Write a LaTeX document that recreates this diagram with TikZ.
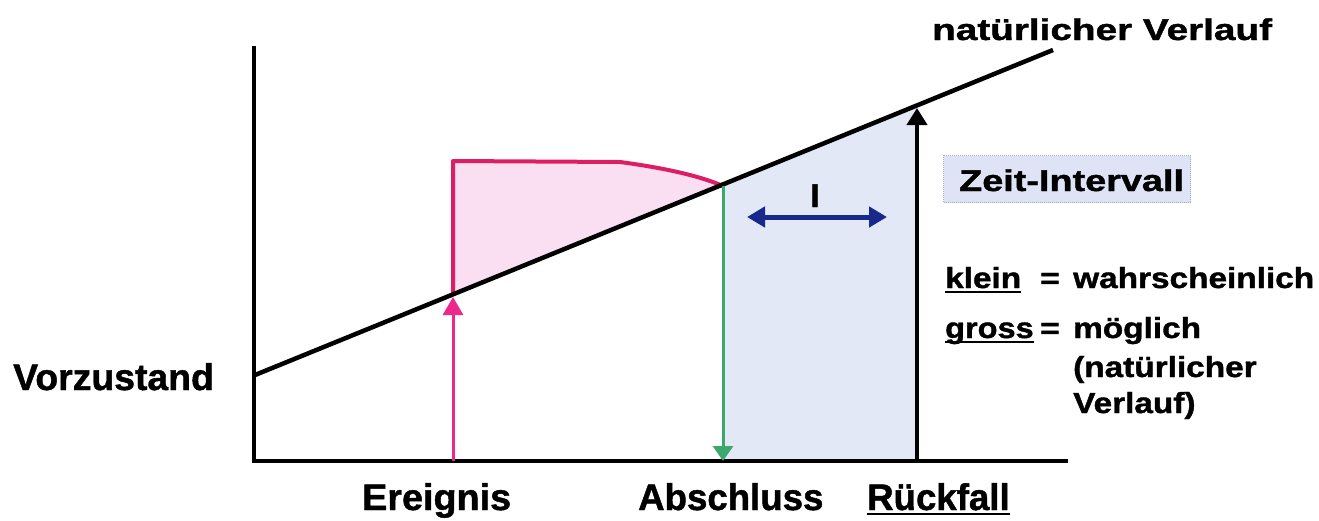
\documentclass[tikz,border=0pt]{standalone}
\usepackage{graphicx}
\usepackage{fontspec}
\setmainfont{Liberation Sans}[BoldFeatures={FakeBold=1.2}]
\usetikzlibrary{arrows.meta}
\definecolor{pinkline}{RGB}{222,30,100}
\definecolor{pinkarrow}{RGB}{236,40,140}
\definecolor{pinkfill}{RGB}{250,222,242}
\definecolor{bluefill}{RGB}{226,232,246}
\definecolor{greenl}{RGB}{60,168,110}
\definecolor{darkblue}{RGB}{25,40,140}
\definecolor{boxblue}{RGB}{222,228,245}
\definecolor{boxedge}{RGB}{160,170,205}
\newcommand\ulx[1]{\setbox0\hbox{#1}\rlap{\rule[-5pt]{\wd0}{2.5pt}}\box0}
\newcommand\strtext[2]{\scalebox{#1}[1]{#2}}
\begin{document}
\begin{tikzpicture}[x=1pt,y=-1pt,
  lab/.style={anchor=base west, inner sep=0pt, font=\bfseries\fontsize{#1}{#1}\selectfont},
  lab/.default=37,
  axisline/.style={line width=4.5pt, line join=miter},
  tipa/.style={-{Triangle[length=17pt,width=20pt]}}
]
\useasboundingbox (0,0) rectangle (1319,520);
% coordinates
\coordinate (top) at (254,46);
\coordinate (O) at (254,461);
\coordinate (xend) at (1068,461);
\coordinate (L0) at (255,375);
\coordinate (L1) at (1053,50);
\coordinate (E0) at (453,461);
\coordinate (E1) at (453,297);
\coordinate (Ptop) at (453,161);
\coordinate (Pmid) at (620,162);
\coordinate (Pline) at (453,295);
\coordinate (A0) at (723,186);
\coordinate (A1) at (723,461);
\coordinate (R0) at (917,461);
\coordinate (R1) at (917,108);
\coordinate (D0) at (747,217);
\coordinate (D1) at (887,217);
% fills
\fill[pinkfill] (Ptop) -- (Pmid) .. controls (665,168) and (700,176) .. (A0) -- (Pline) -- cycle;
\fill[bluefill] (A0) -- (917,107) -- (R0) -- (A1) -- cycle;
% Zeit-Intervall box
\node[fill=boxblue, draw=boxedge, densely dotted, line width=1pt, anchor=north west,
      minimum width=247pt, minimum height=47pt, inner sep=0pt] (zbox) at (943,155) {};
% pink outline
\draw[pinkline, line width=4pt, line join=round] (Pline) -- (Ptop) -- (Pmid) .. controls (665,168) and (700,176) .. (A0);
% axes and natural course
\draw[axisline] (top) -- (O) -- (xend);
\draw[line width=4.5pt] (L0) -- (L1);
% arrows
\draw[pinkarrow, line width=3pt, -{Triangle[length=18pt,width=20pt]}] (E0) -- (E1);
\draw[greenl, line width=3pt, -{Triangle[length=15pt,width=20pt]}] (A0) -- (A1);
\draw[line width=4pt, tipa] (R0) -- (R1);
\draw[darkblue, line width=5pt, {Triangle[length=18pt,width=20pt]}-{Triangle[length=18pt,width=20pt]}] (D0) -- (D1);
% labels
\node[anchor=base, inner sep=0pt, font=\bfseries\fontsize{33}{33}\selectfont] (I) at (815,207) {I};
\node[lab=30] (nat) at (932,40) {\strtext{1.29}{natürlicher Verlauf}};
\node[lab=30] (zeit) at (959,191) {\strtext{1.26}{Zeit-Intervall}};
\node[lab] (vor) at (13,390) {\strtext{1.01}{Vorzustand}};
\node[lab] (ereig) at (362,510) {\strtext{1.02}{Ereignis}};
\node[lab] (absch) at (638,510) {\strtext{0.99}{Abschluss}};
\node[lab] (rueck) at (867,510) {\strtext{0.99}{\ulx{Rückfall}}};
\node[lab=29] (klein) at (945,288) {\strtext{1.15}{\ulx{klein}}};
\node[lab=29] (eq1) at (1040,288) {\strtext{1.15}{=}};
\node[lab=29] (wahr) at (1073,288) {\strtext{1.15}{wahrscheinlich}};
\node[lab=29] (gross) at (945,338) {\strtext{1.12}{\ulx{gross}}};
\node[lab=29] (eq2) at (1040,338) {\strtext{1.15}{=}};
\node[lab=29] (moegl) at (1073,338) {\strtext{1.15}{möglich}};
\node[lab=29] (nat2) at (1073,377) {\strtext{1.15}{(natürlicher}};
\node[lab=29] (verl) at (1073,413) {\strtext{1.15}{Verlauf)}};
\end{tikzpicture}
\end{document}
